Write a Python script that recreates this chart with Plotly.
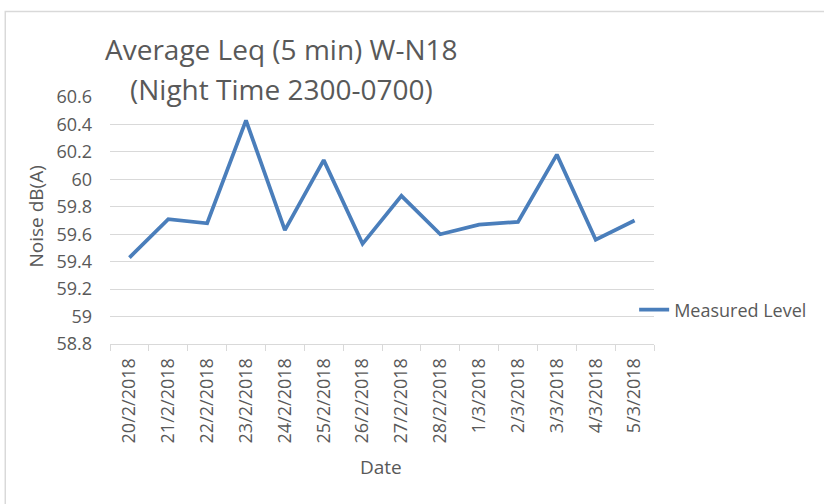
import plotly.graph_objects as go

dates = ['20/2/2018', '21/2/2018', '22/2/2018', '23/2/2018', '24/2/2018', '25/2/2018',
         '26/2/2018', '27/2/2018', '28/2/2018', '1/3/2018', '2/3/2018', '3/3/2018',
         '4/3/2018', '5/3/2018']
measured_level = [59.43, 59.71, 59.68, 60.43, 59.63, 60.14, 59.53, 59.88, 59.60,
                  59.67, 59.69, 60.18, 59.56, 59.70]
y_ticks = [58.8, 59, 59.2, 59.4, 59.6, 59.8, 60, 60.2, 60.4, 60.6]
y_tick_text = ['58.8', '59', '59.2', '59.4', '59.6', '59.8', '60', '60.2', '60.4', '60.6']

# page pixels (body margin is removed in post_script)
W, H = 824, 504
left, right, top, bottom = 110, 658, 97, 344
L, T, R, B = left, top, W - right, H - bottom
pw, ph = W - L - R, H - T - B


def px(x):
    return (x - left) / pw


def py(y):
    return (bottom - y) / ph


grey = '#595959'
font = 'Open Sans'

fig = go.Figure()
fig.add_trace(go.Scatter(
    x=dates, y=measured_level, mode='lines', name='Measured Level',
    line=dict(color='#4a7ebb', width=3.75)))

fig.update_layout(
    width=W, height=H,
    margin=dict(l=L, r=R, t=T, b=B),
    paper_bgcolor='white', plot_bgcolor='white',
    font=dict(family=font, color=grey, size=18),
    showlegend=True,
    legend=dict(x=px(638), y=py(310), xanchor='left', yanchor='middle',
                font=dict(size=18, color=grey), bgcolor='rgba(0,0,0,0)'),
    annotations=[
        dict(text='Average Leq (5 min) W-N18', x=px(283), y=py(49), xref='paper', yref='paper',
             showarrow=False, xanchor='center', yanchor='middle', font=dict(size=28, color=grey)),
        dict(text='(Night Time 2300-0700)', x=px(283), y=py(89), xref='paper', yref='paper',
             showarrow=False, xanchor='center', yanchor='middle', font=dict(size=28, color=grey)),
        dict(text='Noise dB(A)', x=px(35), y=py(217), xref='paper', yref='paper', textangle=-90,
             showarrow=False, xanchor='center', yanchor='middle', font=dict(size=19, color=grey)),
        dict(text='Date', x=px(383), y=py(467), xref='paper', yref='paper',
             showarrow=False, xanchor='center', yanchor='middle', font=dict(size=19, color=grey)),
    ],
    shapes=[dict(type='rect', xref='paper', yref='paper', x0=px(4.5), x1=px(830), y0=py(510), y1=py(11.5),
                 line=dict(color='#d9d9d9', width=1.5), layer='below')],
)

fig.update_xaxes(
    type='category', range=[-0.5, len(dates) - 0.5], tickangle=-90, tickson='boundaries',
    ticks='outside', ticklen=6, tickcolor='#d9d9d9', showline=True, linecolor='#d9d9d9',
    linewidth=1, showgrid=False, tickfont=dict(size=18, color=grey), ticklabelstandoff=6)
fig.update_yaxes(
    range=[58.8, 60.6], tickvals=y_ticks, ticktext=y_tick_text, showgrid=True,
    gridcolor='#d9d9d9', gridwidth=1, zeroline=False, showline=False,
    tickfont=dict(size=18, color=grey), ticklabelstandoff=17)

fig.write_html('out.html', config={'displayModeBar': False},
               post_script="document.body.style.margin='0';")
